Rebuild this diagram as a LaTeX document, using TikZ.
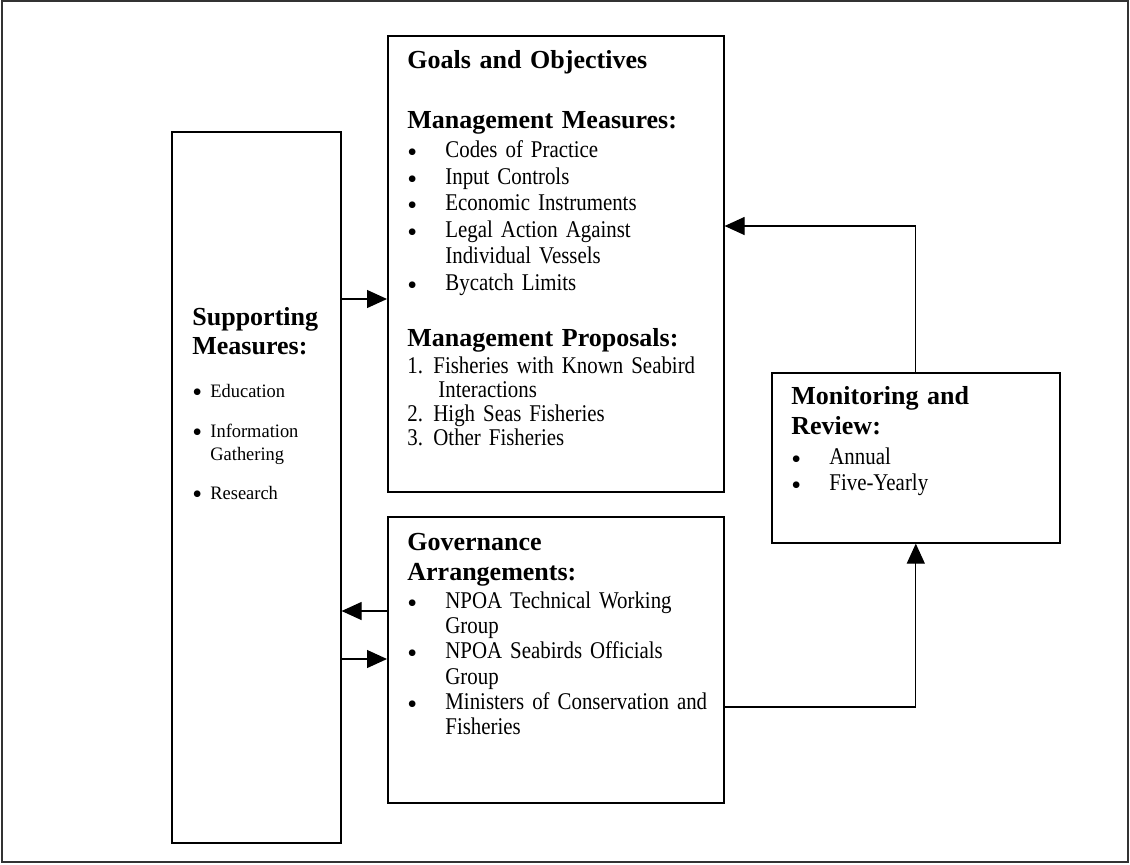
\documentclass[tikz,border=0pt]{standalone}
\usepackage{fontspec}
\setmainfont{Liberation Serif}
\newfontfamily\bodyfont[FakeStretch=0.87]{Liberation Serif}
\newfontfamily\smallfont[FakeStretch=0.97]{Liberation Serif}
\usetikzlibrary{arrows.meta}

\newcommand{\tightsp}{\spaceskip=2.1pt plus 1pt minus 0.5pt\relax}
\newcommand{\bdot}{\raisebox{-2pt}{\normalfont\fontsize{14}{14}\selectfont\textbullet}}
\newcommand{\bul}[1]{\makebox[19pt][l]{\bdot}#1}
\newcommand{\hang}[1]{\hspace*{19pt}#1}
\newcommand{\numit}[2]{\makebox[13pt][l]{#1}#2}
\newcommand{\sbul}[1]{\makebox[9pt][l]{\bdot}#1}

\begin{document}
\begin{tikzpicture}[x=1pt,y=-1pt,
	box/.style={draw,line width=0.8pt,inner sep=0pt,anchor=north west},
	txt/.style={anchor=base west,inner sep=0pt,align=left,text width=#1},
	txt/.default=170pt,
	head/.style={font=\fontsize{13}{#1}\selectfont\bfseries},
	head/.default=15pt,
	body/.style={font=\bodyfont\fontsize{12}{#1}\selectfont\tightsp},
	arr/.style={-{Triangle[length=10pt,width=9pt]},line width=0.6pt}]
			\useasboundingbox (0,0) rectangle (565,432);
			\draw[line width=0.8pt,black!80] (1,0.5) rectangle (564,431);
			\node[box,minimum width=168pt,minimum height=228pt] (goals) at (193.5,17.5) {};
			\node[box,minimum width=84.5pt,minimum height=355.5pt] (supp) at (85.5,65.5) {};
			\node[box,minimum width=168pt,minimum height=143pt] (gov) at (193.5,258) {};
			\node[box,minimum width=144pt,minimum height=85pt] (mon) at (385.5,186) {};
			\node[txt,head] (gohead) at (203.5,34.2) {Goals and Objectives};
			\node[txt,head] (mmhead) at (203.5,64.2) {Management Measures:};
			\node[txt,body=13.3pt] (mmlist) at (203.5,78.7) {\bul{Codes of Practice}\\ \bul{Input Controls}\\ \bul{Economic Instruments}\\ \bul{Legal Action Against}\\ \hang{Individual Vessels}\\ \bul{Bycatch Limits}};
			\node[txt,head] (mphead) at (203.5,173.3) {Management Proposals:};
			\node[txt,body=12pt] (mplist) at (203.5,186.7) {\numit{1.}{Fisheries with Known Seabird}\\ \hspace*{15.5pt}Interactions\\ \numit{2.}{High Seas Fisheries}\\ \numit{3.}{Other Fisheries}};
			\node[txt,head] (gvhead) at (203.5,275.3) {Governance\\ Arrangements:};
			\node[txt,body=12.6pt] (gvlist) at (203.5,304.2) {\bul{NPOA Technical Working}\\ \hang{Group}\\ \bul{NPOA Seabirds Officials}\\ \hang{Group}\\ \bul{Ministers of Conservation and}\\ \hang{Fisheries}};
			\node[txt,head=14.8pt] (mnhead) at (395.5,202.2) {Monitoring and\\ Review:};
			\node[txt,body=13.3pt] (mnlist) at (395.5,232) {\bul{Annual}\\ \bul{Five-Yearly}};
			\node[txt=70pt,head=14.5pt] (sphead) at (96,162.5) {Supporting\\ Measures:};
			\node[txt=70pt,font=\smallfont\fontsize{9.5}{11.5}\selectfont] (splist) at (96,198.7) {\sbul{Education}\\[8.5pt] \sbul{Information}\\ \hspace*{9pt}Gathering\\[7.8pt] \sbul{Research}};
			\coordinate (ya) at (0,149.5);
			\coordinate (yb) at (0,305.5);
			\coordinate (yc) at (0,329.5);
			\coordinate (yd) at (0,353.5);
			\coordinate (ye) at (0,113);
			\draw[arr] (supp.east |- ya) -- (goals.west |- ya);
			\draw[arr] (gov.west |- yb) -- (supp.east |- yb);
			\draw[arr] (supp.east |- yc) -- (gov.west |- yc);
			\draw[arr] (gov.east |- yd) -| (mon.south);
			\draw[arr] (mon.north) |- (goals.east |- ye);
	\end{tikzpicture}
\end{document}
